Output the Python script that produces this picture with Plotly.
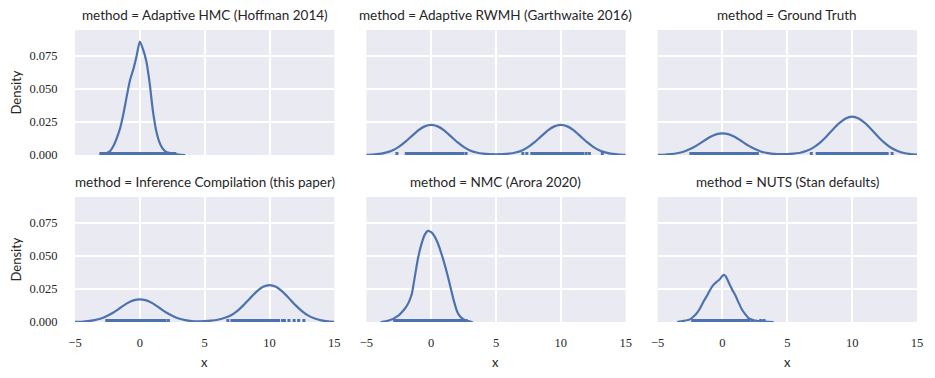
import plotly.graph_objects as go
from plotly.subplots import make_subplots

# facet titles, in grid order (row by row)
methods = [
    "Adaptive HMC (Hoffman 2014)",
    "Adaptive RWMH (Garthwaite 2016)",
    "Ground Truth",
    "Inference Compilation (this paper)",
    "NMC (Arora 2020)",
    "NUTS (Stan defaults)",
]

# KDE curves
hmc_x = [-3.1, -2.75, -2.5, -2.25, -2.0, -1.75, -1.5, -1.25, -1.0, -0.75, -0.5, -0.25, 0.0,
         0.25, 0.5, 0.75, 1.0, 1.25, 1.5, 1.75, 2.0, 2.5, 3.0, 3.5]
hmc_y = [0.0, 0.0008, 0.0018, 0.0035, 0.0075, 0.0135, 0.021, 0.032, 0.045, 0.057, 0.065, 0.075, 0.086,
         0.080, 0.071, 0.055, 0.034, 0.019, 0.010, 0.005, 0.0025, 0.001, 0.0003, 0.0]

grid_x = [-5.0, -4.5, -4.0, -3.5, -3.0, -2.5, -2.0, -1.5, -1.0, -0.5, 0.0, 0.5, 1.0, 1.5, 2.0, 2.5, 3.0,
          3.5, 4.0, 4.5, 5.0, 5.5, 6.0, 6.5, 7.0, 7.5, 8.0, 8.5, 9.0, 9.5, 10.0, 10.5, 11.0, 11.5,
          12.0, 12.5, 13.0, 13.5, 14.0, 14.5, 15.0]
rwmh_y = [0.0001, 0.0003, 0.0008, 0.0018, 0.0035, 0.0062, 0.0099, 0.0143, 0.0187, 0.0217, 0.0228,
          0.0217, 0.0187, 0.0143, 0.0099, 0.0062, 0.0035, 0.0019, 0.0010, 0.0006, 0.0005, 0.0006,
          0.0010, 0.0019, 0.0035, 0.0062, 0.0099, 0.0143, 0.0187, 0.0217, 0.0228, 0.0217, 0.0187,
          0.0143, 0.0099, 0.0062, 0.0035, 0.0018, 0.0008, 0.0003, 0.0001]
truth_y = [0.0001, 0.0002, 0.0006, 0.0013, 0.0025, 0.0045, 0.0071, 0.0103, 0.0134, 0.0156, 0.0164,
           0.0156, 0.0134, 0.0103, 0.0071, 0.0045, 0.0025, 0.0014, 0.0008, 0.0006, 0.0007, 0.0011,
           0.0017, 0.0032, 0.0056, 0.0092, 0.0139, 0.0192, 0.0241, 0.0277, 0.0290, 0.0277, 0.0241,
           0.0192, 0.0139, 0.0092, 0.0055, 0.0031, 0.0015, 0.0007, 0.0003]
ic_y = [0.0001, 0.0002, 0.0006, 0.0014, 0.0026, 0.0047, 0.0074, 0.0108, 0.0141, 0.0164, 0.0172,
        0.0164, 0.0141, 0.0108, 0.0074, 0.0047, 0.0026, 0.0014, 0.0007, 0.0005, 0.0006, 0.0010,
        0.0017, 0.0030, 0.0050, 0.0083, 0.0128, 0.0180, 0.0230, 0.0267, 0.0280, 0.0267, 0.0230,
        0.0180, 0.0128, 0.0083, 0.0048, 0.0026, 0.0012, 0.0005, 0.0002]

nmc_x = [-3.9, -3.5, -3.0, -2.75, -2.5, -2.25, -2.0, -1.75, -1.5, -1.25, -1.0, -0.75, -0.5, -0.25, 0.0,
         0.25, 0.5, 0.75, 1.0, 1.25, 1.5, 1.75, 2.0, 2.25, 2.5, 2.75, 3.0, 3.2]
nmc_y = [0.0, 0.0005, 0.002, 0.0035, 0.005, 0.0075, 0.0105, 0.0145, 0.021, 0.035, 0.049, 0.059, 0.066,
         0.069, 0.068, 0.065, 0.060, 0.053, 0.045, 0.036, 0.026, 0.016, 0.008, 0.004, 0.002, 0.001,
         0.0004, 0.0]

nuts_x = [-3.5, -3.0, -2.5, -2.25, -2.0, -1.75, -1.5, -1.25, -1.0, -0.75, -0.5, -0.25, 0.0, 0.1,
          0.25, 0.5, 0.75, 1.0, 1.25, 1.5, 1.75, 2.0, 2.25, 2.5, 3.0, 3.5, 3.95]
nuts_y = [0.0, 0.0008, 0.002, 0.004, 0.0065, 0.010, 0.0148, 0.019, 0.0235, 0.0275, 0.030, 0.032, 0.0350,
          0.0358, 0.0345, 0.0295, 0.0245, 0.020, 0.0145, 0.0095, 0.006, 0.003, 0.0018, 0.001, 0.0005,
          0.0002, 0.0]

# rug samples
hmc_rug = [-3.0, -2.85, -2.7, -2.55, -2.4, -2.25, -2.1, -1.95, -1.8, -1.65, -1.5, -1.35, -1.2, -1.05,
           -0.9, -0.75, -0.6, -0.45, -0.3, -0.15, 0.0, 0.15, 0.3, 0.45, 0.6, 0.75, 0.9, 1.05, 1.2,
           1.35, 1.5, 1.65, 1.8, 1.95, 2.1, 2.25, 2.4, 2.55, 2.7]
rwmh_rug = [-2.64, -1.92, -1.77, -1.62, -1.47, -1.32, -1.17, -1.02, -0.87, -0.72, -0.57, -0.42, -0.27,
            -0.12, 0.03, 0.18, 0.33, 0.48, 0.63, 0.78, 0.93, 1.08, 1.23, 1.38, 1.53, 1.68, 1.83, 1.98,
            2.13, 2.31, 2.44, 2.69,
            7.07, 7.38, 7.76, 7.91, 8.06, 8.21, 8.36, 8.51, 8.66, 8.81, 8.96, 9.11, 9.26, 9.41, 9.56,
            9.71, 9.86, 10.01, 10.16, 10.31, 10.46, 10.61, 10.76, 10.91, 11.06, 11.21, 11.36, 11.51,
            11.69, 11.95, 12.2, 13.2]
truth_rug = [-2.44, -2.29, -2.14, -1.99, -1.84, -1.69, -1.54, -1.39, -1.24, -1.09, -0.94, -0.79, -0.64,
             -0.49, -0.34, -0.19, -0.04, 0.11, 0.26, 0.41, 0.56, 0.71, 0.86, 1.01, 1.16, 1.31, 1.46,
             1.61, 1.76, 1.91, 2.06, 2.18, 2.32, 2.51, 2.69,
             6.85, 7.3, 7.45, 7.6, 7.75, 7.9, 8.05, 8.2, 8.35, 8.5, 8.65, 8.8, 8.95, 9.1, 9.25, 9.4,
             9.55, 9.7, 9.85, 10.0, 10.15, 10.3, 10.45, 10.6, 10.75, 10.9, 11.05, 11.2, 11.35, 11.5,
             11.65, 11.8, 11.95, 12.1, 12.25, 12.4, 12.55, 12.7, 13.08]
ic_rug = [-2.55, -2.4, -2.25, -2.1, -1.95, -1.8, -1.65, -1.5, -1.35, -1.2, -1.05, -0.9, -0.75, -0.6,
          -0.45, -0.3, -0.15, 0.0, 0.15, 0.3, 0.45, 0.6, 0.75, 0.9, 1.05, 1.2, 1.35, 1.5, 1.65, 1.8,
          1.95, 2.2,
          6.79, 7.1, 7.25, 7.4, 7.55, 7.7, 7.85, 8.0, 8.15, 8.3, 8.45, 8.6, 8.75, 8.9, 9.05, 9.2, 9.35,
          9.5, 9.65, 9.8, 9.95, 10.1, 10.25, 10.4, 10.55, 10.7, 11.0, 11.15, 11.5, 11.9, 12.25, 12.65]
nmc_rug = [-2.82, -2.67, -2.52, -2.37, -2.22, -2.07, -1.92, -1.77, -1.62, -1.47, -1.32, -1.17, -1.02,
           -0.87, -0.72, -0.57, -0.42, -0.27, -0.12, 0.03, 0.18, 0.33, 0.48, 0.63, 0.78, 0.93, 1.08,
           1.23, 1.38, 1.53, 1.68, 1.83, 1.98, 2.13, 2.28, 2.43, 2.58, 2.7]
nuts_rug = [-2.3, -2.15, -2.0, -1.85, -1.7, -1.55, -1.4, -1.25, -1.1, -0.95, -0.8, -0.65, -0.5, -0.35,
            -0.2, -0.05, 0.1, 0.25, 0.4, 0.55, 0.7, 0.85, 1.0, 1.15, 1.3, 1.45, 1.6, 1.75, 1.9, 2.05,
            2.3, 2.95, 3.2]

x_ticks = [-5, 0, 5, 10, 15]
y_ticks = [0.0, 0.025, 0.05, 0.075]

panels = [
    (hmc_x, hmc_y, hmc_rug),
    (grid_x, rwmh_y, rwmh_rug),
    (grid_x, truth_y, truth_rug),
    (grid_x, ic_y, ic_rug),
    (nmc_x, nmc_y, nmc_rug),
    (nuts_x, nuts_y, nuts_rug),
]

BLUE = "#4c72b0"
BG = "#eaeaf2"
INK = "#262626"
SANS = "Lato"
SERIF = "Liberation Serif"
Y_TOP = 0.0947
RUG_H = 0.024 * Y_TOP   # rug tick height, as a fraction of the axis like seaborn

fig = make_subplots(rows=2, cols=3, horizontal_spacing=0.038, vertical_spacing=0.1438)

for i, (xs, ys, rug) in enumerate(panels):
    r, c = i // 3 + 1, i % 3 + 1
    rx, ry = [], []
    for v in rug:
        rx += [v, v, None]
        ry += [0, RUG_H, None]
    fig.add_trace(go.Scatter(x=rx, y=ry, mode="lines", hoverinfo="skip",
                             line=dict(color=BLUE, width=3)), row=r, col=c)
    fig.add_trace(go.Scatter(
        x=xs, y=ys, mode="lines", line=dict(color=BLUE, width=2.2, shape="spline", smoothing=0.6),
    ), row=r, col=c)

fig.update_xaxes(range=[-5, 15], tickvals=x_ticks, showgrid=True, gridcolor="white", gridwidth=1.5,
                 zeroline=False, showline=False, ticks="outside", ticklen=9, automargin=False,
                 tickcolor="rgba(0,0,0,0)", tickfont=dict(family=SERIF, size=12.5, color=INK))
fig.update_yaxes(range=[0, Y_TOP], tickvals=y_ticks, tickformat=".3f", showgrid=True,
                 gridcolor="white", gridwidth=1.5, zeroline=False, showline=False, automargin=False,
                 ticks="outside", ticklen=14, tickcolor="rgba(0,0,0,0)",
                 tickfont=dict(family=SERIF, size=12.5, color=INK))
# shared axes: only outer labels
for r in (1, 2):
    for c in (2, 3):
        fig.update_yaxes(showticklabels=False, row=r, col=c)
for c in (1, 2, 3):
    fig.update_xaxes(showticklabels=False, row=1, col=c)

annotations = []
for i, name in enumerate(methods):
    r, c = i // 3 + 1, i % 3 + 1
    xa = fig.get_subplot(r, c).xaxis
    ya = fig.get_subplot(r, c).yaxis
    annotations.append(dict(
        text="method = " + name, x=sum(xa.domain) / 2, y=ya.domain[1], xref="paper", yref="paper",
        xanchor="center", yanchor="bottom", yshift=5, showarrow=False,
        font=dict(family=SANS, size=13.5, color=INK),
    ))
    if r == 2:
        annotations.append(dict(
            text="x", x=sum(xa.domain) / 2, y=0, xref="paper", yref="paper", xanchor="center",
            yanchor="middle", yshift=-40, showarrow=False, font=dict(family=SANS, size=13, color=INK),
        ))
    if c == 1:
        annotations.append(dict(
            text="Density", x=0, y=sum(ya.domain) / 2, xref="paper", yref="paper", xanchor="center",
            yanchor="middle", xshift=-59, textangle=-90, showarrow=False,
            font=dict(family=SANS, size=13, color=INK),
        ))

# the page body adds an 8px offset, so margins are shifted to land the panels where the reference has them
fig.update_layout(
    width=935, height=378, showlegend=False,
    margin=dict(l=67, r=26, t=22, b=64),
    paper_bgcolor="white", plot_bgcolor=BG,
    annotations=annotations,
)

fig.write_html("out.html")
